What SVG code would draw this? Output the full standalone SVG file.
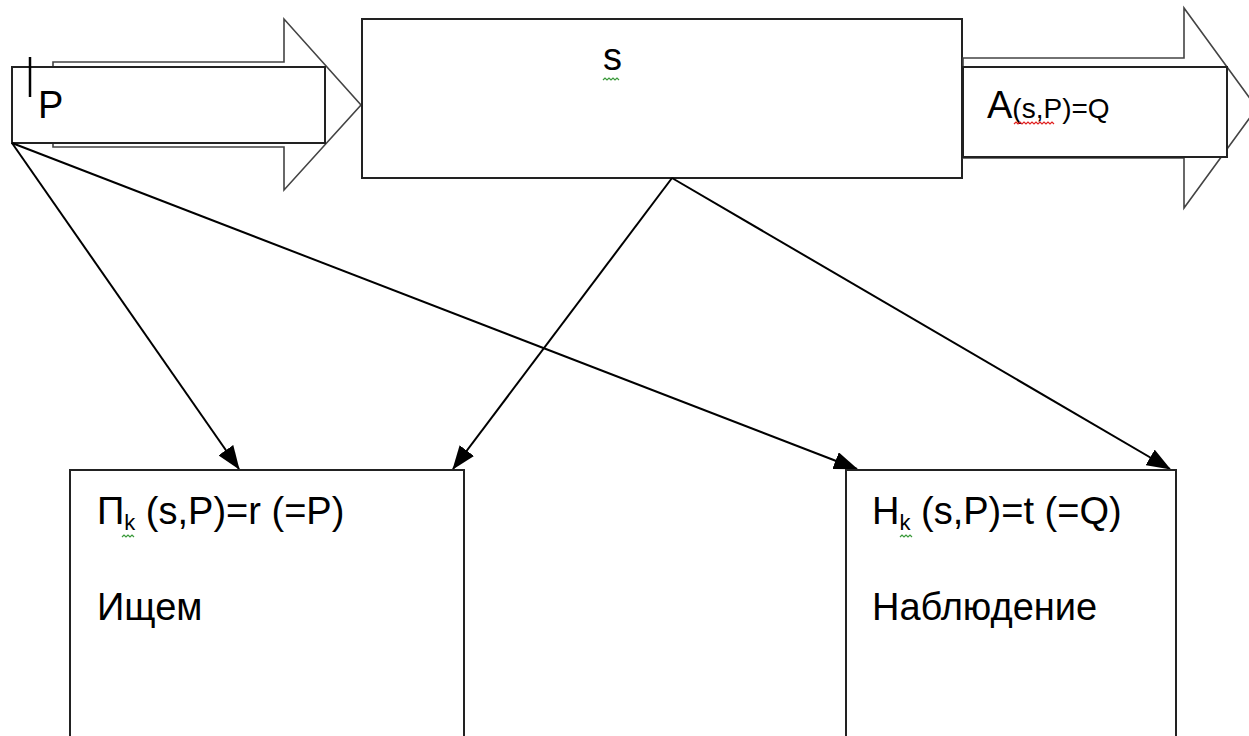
<svg xmlns="http://www.w3.org/2000/svg" width="1249" height="736" viewBox="0 0 1249 736">
<style>
.shape{fill:#fff;stroke:#222;stroke-width:2}
.blk{fill:#fff;stroke:#444;stroke-width:1.6}
.t{font-family:"Liberation Sans","DejaVu Sans",sans-serif;fill:#000}
.con{stroke:#000;stroke-width:2;fill:none;marker-end:url(#ah)}
.wg{fill:none;stroke:#3a9a3a;stroke-width:1.2}
.wr{fill:none;stroke:#e02020;stroke-width:1.2}
</style>
<defs>
<marker id="ah" markerUnits="userSpaceOnUse" markerWidth="24" markerHeight="18" viewBox="0 0 24 18" refX="23" refY="9" orient="auto">
<path d="M0,0 L24,9 L0,18 Z" fill="#000"/>
</marker>
</defs>
<rect width="1249" height="736" fill="#fff"/>

<g id="input-arrow">
<path class="blk" d="M53,62 H284 V19 L361,105 L284,190 V147 H53 Z"/>
<rect class="shape" x="12" y="67" width="313" height="76"/>
<line x1="30" y1="57" x2="30" y2="97" stroke="#000" stroke-width="2.5"/>
<text class="t" x="38" y="118" font-size="38">P</text>
</g>

<g id="system">
<rect class="shape" x="362" y="19" width="600" height="159"/>
<text class="t" x="603" y="70" font-size="38">s</text>
<path class="wg" d="M603,80 l2,-2 l2,2 l2,-2 l2,2 l2,-2 l2,2 l2,-2 l2,2"/>
</g>

<g id="output-arrow">
<path class="blk" d="M963,58 H1184 V8 L1257,108 L1184,208 V158 H963 Z"/>
<rect class="shape" x="963" y="67" width="264" height="90"/>
<text class="t" x="987" y="118" font-size="38">A<tspan font-size="28">(s,P)=Q</tspan></text>
<path class="wr" d="M1014,124 l2,-2 l2,2 l2,-2 l2,2 l2,-2 l2,2 l2,-2 l2,2 l2,-2 l2,2 l2,-2 l2,2 l2,-2 l2,2 l2,-2 l2,2 l2,-2 l2,2 l2,-2 l2,2"/>
</g>

<g id="connectors">
<line class="con" x1="12" y1="143" x2="239" y2="469"/>
<line class="con" x1="12" y1="143" x2="857" y2="469"/>
<line class="con" x1="672" y1="178" x2="453" y2="469"/>
<line class="con" x1="672" y1="178" x2="1170" y2="469"/>
</g>

<g id="search">
<rect class="shape" x="70" y="470" width="394" height="300"/>
<text class="t" x="97" y="524" font-size="38">П<tspan font-size="22" dy="6">k</tspan><tspan dy="-6"> (s,P)=r (=P)</tspan></text>
<path class="wg" d="M122,537 l2,-2 l2,2 l2,-2 l2,2 l2,-2 l2,2"/>
<text class="t" x="97" y="620" font-size="38">Ищем</text>
</g>

<g id="observation">
<rect class="shape" x="846" y="470" width="330" height="300"/>
<text class="t" x="872" y="524" font-size="38">Н<tspan font-size="22" dy="6">k</tspan><tspan dy="-6"> (s,P)=t (=Q)</tspan></text>
<path class="wg" d="M900,537 l2,-2 l2,2 l2,-2 l2,2 l2,-2 l2,2"/>
<text class="t" x="872" y="620" font-size="38">Наблюдение</text>
</g>
</svg>
